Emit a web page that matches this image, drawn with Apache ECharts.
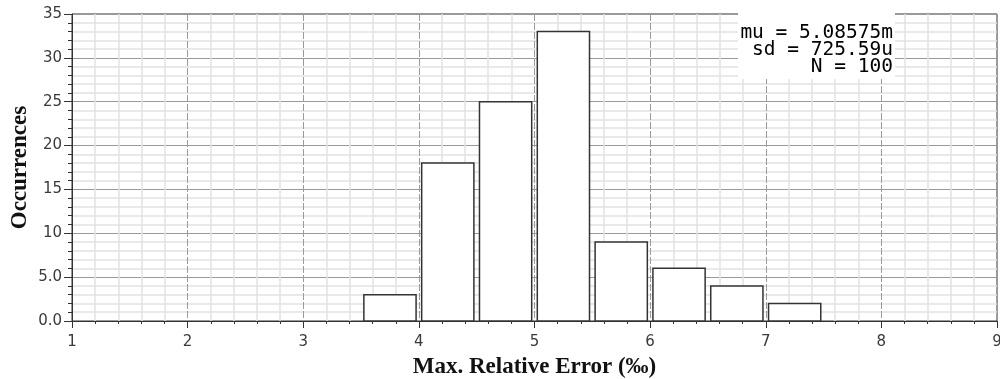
<!DOCTYPE html>
<html>
<head>
<meta charset="utf-8">
<script src="https://cdn.jsdelivr.net/npm/echarts@6/dist/echarts.min.js"></script>
<style>
html,body{margin:0;padding:0;background:#fff;}
#chart{width:1000px;height:379px;}
</style>
</head>
<body>
<div id="chart"></div>
<script>
// Histogram bins: [start, end] of Max. Relative Error (‰) and occurrence counts
var binStarts = [3.5, 4.0, 4.5, 5.0, 5.5, 6.0, 6.5, 7.0];
var binEnds   = [4.0, 4.5, 5.0, 5.5, 6.0, 6.5, 7.0, 7.5];
var counts    = [3, 18, 25, 33, 9, 6, 4, 2];

var yTickLabels = {0: '0.0', 5: '5.0', 10: '10', 15: '15', 20: '20', 25: '25', 30: '30', 35: '35'};
var statsLines = ['mu = 5.08575m', 'sd = 725.59u', 'N = 100'];
var xTitle = 'Max. Relative Error (\u2030)';
var yTitle = 'Occurrences';

var barData = binStarts.map(function (s, i) { return [s, binEnds[i], counts[i]]; });

var chart = echarts.init(document.getElementById('chart'), null, {renderer: 'canvas'});

var tickFont = {fontFamily: 'DejaVu Sans', fontSize: 15, color: '#3a3a3a'};
var titleFont = {fontFamily: 'Liberation Serif', fontWeight: 'bold', fontSize: 23, color: '#111'};

var option = {
  animation: false,
  backgroundColor: '#fff',
  grid: {
    left: 72, right: 3, top: 14, bottom: 58,
    outerBoundsMode: 'none', containLabel: false,
    show: true, borderColor: '#333', borderWidth: 1, backgroundColor: '#fff'
  },
  xAxis: {
    type: 'value', min: 1, max: 9, interval: 1,
    name: xTitle, nameLocation: 'middle', nameGap: 35,
    nameTextStyle: titleFont,
    axisLine: {show: true, onZero: false, lineStyle: {color: '#333', width: 1}},
    axisTick: {show: true, length: 7, lineStyle: {color: '#333'}},
    minorTick: {show: true, splitNumber: 5, length: 3, lineStyle: {color: '#333'}},
    axisLabel: Object.assign({margin: 14}, tickFont),
    splitLine: {show: true, lineStyle: {color: '#9a9a9a', width: 1, type: [7, 2]}},
    minorSplitLine: {show: true, lineStyle: {color: '#e2e2e2', width: 1.5}}
  },
  yAxis: {
    type: 'value', min: 0, max: 35, interval: 5,
    name: yTitle, nameLocation: 'middle', nameGap: 40, nameMoveOverlap: false,
    nameTextStyle: titleFont,
    axisLine: {show: true, lineStyle: {color: '#333', width: 1}},
    axisTick: {show: true, length: 8, lineStyle: {color: '#333'}},
    minorTick: {show: true, splitNumber: 5, length: 4, lineStyle: {color: '#333'}},
    axisLabel: Object.assign({
      margin: 10,
      formatter: function (v) { return yTickLabels[v] !== undefined ? yTickLabels[v] : String(v); }
    }, tickFont),
    splitLine: {show: true, lineStyle: {color: '#999', width: 1}},
    minorSplitLine: {show: true, lineStyle: {color: '#e2e2e2', width: 1.5}}
  },
  series: [{
    type: 'custom',
    data: barData,
    encode: {x: [0, 1], y: 2},
    renderItem: function (params, api) {
      var p0 = api.coord([api.value(0), api.value(2)]);
      var p1 = api.coord([api.value(1), 0]);
      var inset = 2.8;
      return {
        type: 'rect',
        shape: {x: p0[0] + inset, y: p0[1], width: p1[0] - p0[0] - 2 * inset, height: p1[1] - p0[1]},
        style: {fill: '#fff', stroke: '#333', lineWidth: 1.5}
      };
    },
    z: 5
  }],
  graphic: [{
    type: 'group', z: 100,
    children: [
      {type: 'rect', shape: {x: 738, y: 12, width: 157, height: 67}, style: {fill: '#fff'}, z: 100},
      {type: 'text', x: 893, y: 33, style: {text: statsLines[0], align: 'right', verticalAlign: 'middle', font: '19.5px "DejaVu Sans Mono"', fill: '#000'}, z: 101},
      {type: 'text', x: 893, y: 50, style: {text: statsLines[1], align: 'right', verticalAlign: 'middle', font: '19.5px "DejaVu Sans Mono"', fill: '#000'}, z: 101},
      {type: 'text', x: 893, y: 67, style: {text: statsLines[2], align: 'right', verticalAlign: 'middle', font: '19.5px "DejaVu Sans Mono"', fill: '#000'}, z: 101}
    ]
  }]
};
chart.setOption(option);
</script>
</body>
</html>
